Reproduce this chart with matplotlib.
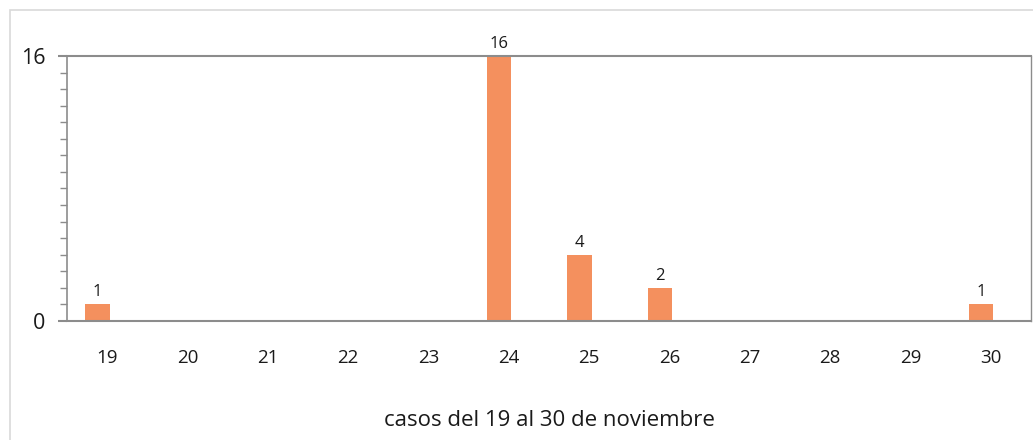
import matplotlib

matplotlib.use("Agg")
import matplotlib.pyplot as plt
import numpy as np
from matplotlib.patches import Rectangle
from matplotlib.ticker import MultipleLocator

days = ["19", "20", "21", "22", "23", "24", "25", "26", "27", "28", "29", "30"]
cases = [1, 0, 0, 0, 0, 16, 4, 2, 0, 0, 0, 1]
x_label = "casos del 19 al 30 de noviembre"

BAR_COLOR = "#F4905E"
AXIS_COLOR = "#8c8c8c"
TEXT_COLOR = "#1a1a1a"

plt.rcParams["font.family"] = ["Open Sans", "DejaVu Sans"]

W, H = 1033, 440
fig = plt.figure(figsize=(W / 100, H / 100), dpi=100)
# light outer chart border, runs off the right/bottom edge
fig.patches.append(Rectangle((10 / W, -0.1), 1.2, 1.1 - 10 / H,
                             transform=fig.transFigure, fill=False,
                             edgecolor="#d9d9d9", linewidth=1.2))

ax = fig.add_axes([67 / W, 1 - 321 / H, (1031 - 67) / W, (321 - 56) / H])

xs = np.arange(len(days))
bars = ax.bar(xs - 0.12, cases, width=0.30, color=BAR_COLOR)
for b, v in zip(bars, cases):
    if v > 0:
        ax.annotate(str(v), (b.get_x() + b.get_width() / 2, v),
                    xytext=(0, 3), textcoords="offset points",
                    ha="center", va="bottom", fontsize=12, color=TEXT_COLOR)

ax.set_xlim(-0.5, len(days) - 0.5)
ax.set_ylim(0, 16)
ax.set_xticks(xs, days)
ax.yaxis.set_major_locator(MultipleLocator(16))
ax.yaxis.set_minor_locator(MultipleLocator(1))

for s in ax.spines.values():
    s.set_color(AXIS_COLOR)
    s.set_linewidth(1.5)
ax.spines["left"].set_linewidth(1.2)
ax.spines["right"].set_linewidth(1.0)

ax.tick_params(axis="x", length=0, pad=20, labelsize=13.5, colors=TEXT_COLOR)
ax.tick_params(axis="y", which="major", length=6.5, width=1.5, color=AXIS_COLOR,
               pad=9, labelsize=15.5, labelcolor=TEXT_COLOR)
ax.tick_params(axis="y", which="minor", length=5, width=1.0, color=AXIS_COLOR)

ax.set_xlabel(x_label, fontsize=16, color=TEXT_COLOR, va="center")
ax.xaxis.set_label_coords(0.5, (321 - 421) / (321 - 56))

fig.savefig("out.png", dpi=100)
